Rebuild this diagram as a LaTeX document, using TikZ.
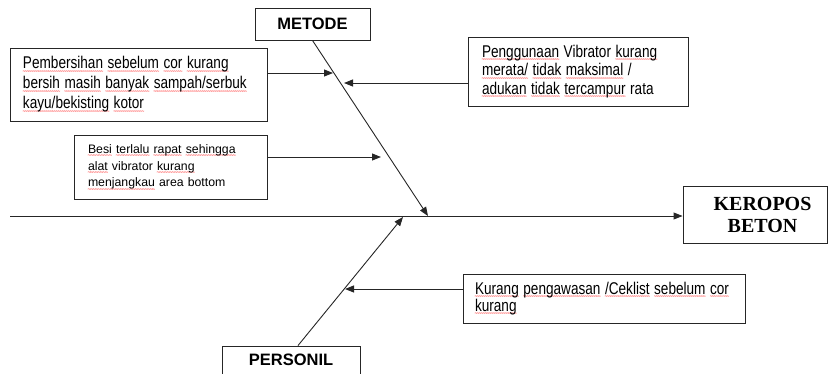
\documentclass[tikz,border=0pt]{standalone}
\usepackage{fontspec}
\usepackage{graphicx}
\usetikzlibrary{arrows.meta,calc}
\setmainfont{Liberation Sans}
\newfontfamily\plainsans{Liberation Sans}
\newfontfamily\serifface{Liberation Serif}
% sans at a given size with a fixed word space; lines are then narrowed by \nline
\newcommand\sansat[2]{\plainsans\fontsize{#1}{#2}\selectfont
  \spaceskip=3.2pt plus 0pt minus 0pt\relax}
\newcommand\nline[1]{\scalebox{0.8}[1]{#1}}
% red wavy underline under a word (a row of small tildes), text stays black
\newsavebox\sqbox
\newcommand\sq[1]{\sbox\sqbox{#1}\leavevmode
  \rlap{\color{red}\raisebox{-4.2pt}[0pt][0pt]{\hbox to \wd\sqbox{%
    \xleaders\hbox{\plainsans\fontsize{6}{6}\selectfont\kern-0.55pt\char"7E\kern-0.55pt}\hfill}}}%
  \usebox\sqbox}
\tikzset{
  causebox/.style={draw=black!85, line width=0.9pt, rectangle, align=left, inner ysep=0pt},
  titlebox/.style={draw=black!85, line width=0.9pt, rectangle, inner sep=0pt,
                   font=\plainsans\bfseries\fontsize{16.5}{18}\selectfont},
  bone/.style={draw=black!85, line width=0.9pt},
  arr/.style={bone, -{Triangle[length=9pt,width=7pt]}},
}
\begin{document}
\begin{tikzpicture}[x=1pt,y=-1pt]
\useasboundingbox (0,0) rectangle (833,373);

% category boxes
\node[titlebox, minimum width=115, minimum height=32] (metode) at (312.5,24) {METODE};
\node[titlebox, minimum width=138, minimum height=28] (personil) at (291,360) {PERSONIL};

% effect box
\node[draw=black!85, line width=0.9pt, rectangle, inner sep=0pt, align=center,
      minimum width=144, minimum height=57,
      font=\serifface\bfseries\fontsize{20}{22}\selectfont] (effect) at (755,214.5)
      {\hspace*{15pt}KEROPOS\\\hspace*{15pt}BETON};

% cause boxes
\node[causebox, minimum width=257, minimum height=73, inner xsep=13, text width=231,
      font=\sansat{17}{20}] (c1) at (138.5,84.5)
  {\nline{\sq{Pembersihan} \sq{sebelum} \sq{cor} \sq{kurang}}\\
   \nline{\sq{bersih} \sq{masih} \sq{banyak} \sq{sampah/serbuk}}\\
   \nline{\sq{kayu/bekisting} \sq{kotor}}};

\node[causebox, minimum width=193, minimum height=64, inner xsep=14, text width=165,
      font=\plainsans\fontsize{12.3}{16.7}\selectfont] (c2) at (170.5,167)
  {\mbox{\sq{Besi} \sq{terlalu} \sq{rapat} \sq{sehingga}}\\
   \mbox{\sq{alat} vibrator \sq{kurang}}\\
   \mbox{\sq{menjangkau} area bottom}};

\node[causebox, minimum width=220, minimum height=69, inner xsep=14, text width=192,
      font=\sansat{17}{18.3}] (c3) at (578,71.5)
  {\nline{\sq{Penggunaan} Vibrator \sq{kurang}}\\
   \nline{\sq{merata/} \sq{tidak} \sq{maksimal} /}\\
   \nline{\sq{adukan} \sq{tidak} \sq{tercampur} rata}};

\node[causebox, minimum width=282, minimum height=49, inner xsep=12, text width=258,
      font=\sansat{17}{17.7}] (c4) at (604,298.5)
  {\nline{\sq{Kurang} \sq{pengawasan} \sq{/Ceklist} \sq{sebelum} \sq{cor}}\\
   \nline{\sq{kurang}}};

% bone ends
\coordinate (tail) at (10,216);
\coordinate (mhead) at (428,216);
\coordinate (phead) at (403,217);
\coordinate (m1) at (333,73);
\coordinate (m2) at (381,157);
\coordinate (m3) at (344,83);
\coordinate (p1) at (345,289);

% spine
\draw[arr] (tail) -- (effect.west |- tail);
% main bones
\draw[arr] (metode.south) -- (mhead);
\draw[arr] ([xshift=7pt]personil.north) -- (phead);
% cause arrows
\draw[arr] (c1.east |- m1) -- (m1);
\draw[arr] (c2.east |- m2) -- (m2);
\draw[arr] (c3.west |- m3) -- (m3);
\draw[arr] (c4.west |- p1) -- (p1);
\end{tikzpicture}
\end{document}
